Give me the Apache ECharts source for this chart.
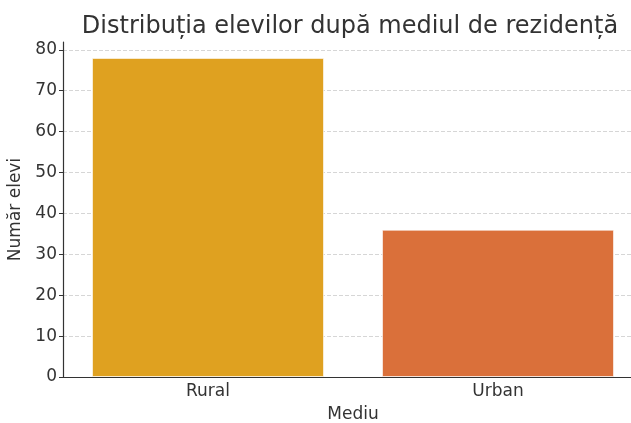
<!DOCTYPE html>
<html>
<head>
<meta charset="utf-8">
<script src="https://cdn.jsdelivr.net/npm/echarts@6/dist/echarts.min.js"></script>
<style>
html, body { margin: 0; padding: 0; background: #fff; overflow: hidden; }
#chart { width: 643px; height: 423px; }
</style>
</head>
<body>
<div id="chart"></div>
<script>
const categories = ['Rural', 'Urban']
const counts = [78, 36]
const barColors = ['#DFA120', '#DA703A']
const yTicks = [0, 10, 20, 30, 40, 50, 60, 70, 80]

const font = 'DejaVu Sans'
const chart = echarts.init(document.getElementById('chart'))

chart.setOption({
	animation: false,
	title: {
		text: 'Distribuția elevilor după mediul de rezidență',
		left: 345,
		top: 10,
		textAlign: 'center',
		textStyle: { fontFamily: font, fontSize: 24, fontWeight: 'normal', color: '#333' },
	},
	grid: { left: 63, right: 0, top: 42, bottom: 46, outerBoundsMode: 'none' },
	xAxis: {
		type: 'category',
		data: categories,
		name: 'Mediu',
		nameLocation: 'middle',
		nameGap: 29,
		nameTextStyle: { fontFamily: font, fontSize: 17, color: '#333' },
		axisLine: { lineStyle: { color: '#333', width: 1.2 } },
		axisTick: { alignWithLabel: true, length: 4, lineStyle: { color: '#333' } },
		axisLabel: { fontFamily: font, fontSize: 17, color: '#333', margin: 6 },
	},
	yAxis: {
		type: 'value',
		min: 0,
		max: 81.9,
		interval: 10,
		name: 'Număr elevi',
		nameLocation: 'middle',
		nameGap: 33,
		nameTextStyle: { fontFamily: font, fontSize: 17, color: '#333' },
		axisLine: { show: true, lineStyle: { color: '#333', width: 1.2 } },
		axisTick: { show: true, length: 4, lineStyle: { color: '#333' } },
		axisLabel: {
			fontFamily: font,
			fontSize: 17,
			color: '#333',
			margin: 6,
			formatter: (v) => (yTicks.includes(v) ? String(v) : ''),
			showMaxLabel: false,
		},
		splitLine: { show: true, showMaxLine: false, lineStyle: { color: '#d6d6d6', type: [4, 2], width: 1 } },
	},
	series: [
		{
			type: 'bar',
			barWidth: '80%',
			data: counts.map((v, i) => ({ value: v, itemStyle: { color: barColors[i] } })),
			itemStyle: { borderColor: 'rgba(255,255,255,0.6)', borderWidth: 1 },
		},
	],
})
</script>
</body>
</html>
